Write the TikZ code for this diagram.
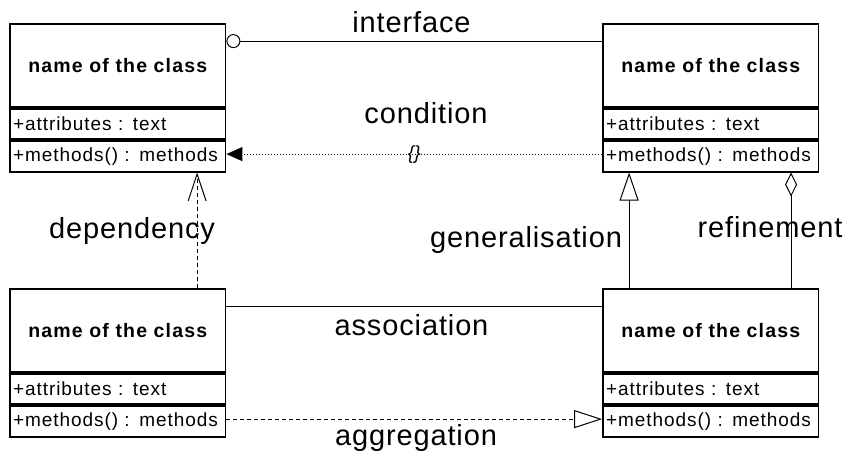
\documentclass[tikz,border=0pt]{standalone}
\usepackage{fontspec}
\setmainfont{Liberation Sans}
\newfontfamily\boxfont[LetterSpace=5]{Liberation Sans}
\newfontfamily\namefont[LetterSpace=6]{Liberation Sans}
\newfontfamily\lblfont[LetterSpace=3]{Liberation Sans}
\usetikzlibrary{arrows.meta,calc}
\begin{document}
\begin{tikzpicture}[x=1pt,y=-1pt,
  part/.style={draw,line width=1.8pt,inner sep=0pt,minimum width=215.5pt},
  namepart/.style={part,minimum height=83pt,font=\namefont\fontsize{19.5}{22}\selectfont\bfseries},
  attrpart/.style={part,minimum height=30pt,text width=209.5pt,align=left,font=\boxfont\fontsize{19}{22}\selectfont},
  methpart/.style={part,minimum height=31pt,text width=209.5pt,align=left,font=\boxfont\fontsize{19}{22}\selectfont},
  conn/.style={line width=1pt},
  dotline/.style={dash pattern=on 1pt off 2pt},
  dashline/.style={dash pattern=on 4pt off 3pt},
  lbl/.style={anchor=base,inner sep=0pt,font=\lblfont\fontsize{29}{34}\selectfont},
  brace/.style={inner sep=0pt,font=\fontsize{19}{22}\selectfont\itshape}
]
\useasboundingbox (0,0) rectangle (850,456);

% top left class
\node[namepart] (tln) at (117.75,65.5) {name of the class};
\node[attrpart,anchor=north] (tla) at (tln.south) {+attributes : text};
\node[methpart,anchor=north] (tlm) at (tla.south) {+methods() : methods};
% top right class
\node[namepart] (trn) at (710.75,65.5) {name of the class};
\node[attrpart,anchor=north] (tra) at (trn.south) {+attributes : text};
\node[methpart,anchor=north] (trm) at (tra.south) {+methods() : methods};
% bottom left class
\node[namepart] (bln) at (117.75,330.5) {name of the class};
\node[attrpart,anchor=north] (bla) at (bln.south) {+attributes : text};
\node[methpart,anchor=north] (blm) at (bla.south) {+methods() : methods};
% bottom right class
\node[namepart] (brn) at (710.75,330.5) {name of the class};
\node[attrpart,anchor=north] (bra) at (brn.south) {+attributes : text};
\node[methpart,anchor=north] (brm) at (bra.south) {+methods() : methods};

% interface
\draw[conn,{Circle[open,length=14pt,width=14pt]}-] ([yshift=-18pt]tln.north east) -- ([yshift=-18pt]trn.north west);
% condition
\draw[conn,dotline,-{Triangle[length=16pt,width=14pt]}] ([yshift=2pt]trm.west) -- node[brace] (cb) {\{\}} ([yshift=2pt]tlm.east);
% dependency
\draw[conn,dashline,-{Straight Barb[length=27pt,width=18pt]}] ([xshift=188pt]bln.north west) -- ([xshift=188pt]tlm.south west);
% generalisation
\draw[conn,-{Triangle[open,length=28pt,width=19pt]}] ([xshift=27pt]brn.north west) -- ([xshift=27pt]trm.south west);
% refinement
\draw[conn,-{Diamond[open,length=24pt,width=12pt]}] ([xshift=189pt]brn.north west) -- ([xshift=189pt]trm.south west);
% association
\draw[conn] ([yshift=-18pt]bln.north east) -- ([yshift=-18pt]brn.north west);
% aggregation
\draw[conn,dashline,-{Triangle[open,length=28pt,width=18pt]}] ([yshift=2pt]blm.east) -- ([yshift=2pt]brm.west);

% labels
\node[lbl] (l-if) at (411.5,32) {interface};
\node[lbl] (l-cond) at (426,123) {condition};
\node[lbl] (l-dep) at (132,238) {dependency};
\node[lbl] (l-gen) at (526,247) {generalisation};
\node[lbl] (l-ref) at (770,237) {refinement};
\node[lbl] (l-ass) at (411.5,335) {association};
\node[lbl] (l-agg) at (416,445) {aggregation};
\end{tikzpicture}
\end{document}
